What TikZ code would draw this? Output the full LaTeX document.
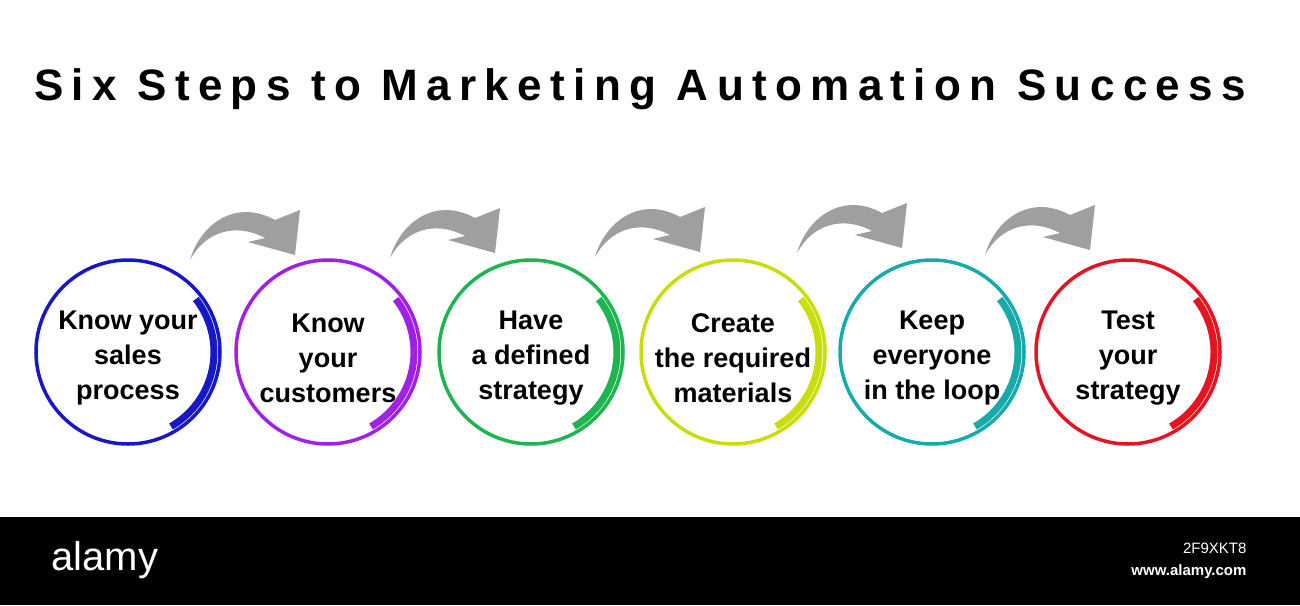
\documentclass[tikz,border=0pt]{standalone}
\usepackage{fontspec}
\setmainfont{Liberation Sans}
\begin{document}
\begin{tikzpicture}[x=1pt,y=-1pt,
  stepc/.style={circle,draw=#1,line width=3.5pt,minimum size=184pt,inner sep=0pt,align=center,
    font=\bfseries\fontsize{27}{35}\selectfont},
  garr/.style={fill=gray!75,draw=none}]
\useasboundingbox (0,0) rectangle (1300,605);
\fill[white] (0,0) rectangle (1300,605);
\definecolor{c1}{RGB}{22,24,200}
\definecolor{c2}{RGB}{160,32,230}
\definecolor{c3}{RGB}{30,180,80}
\definecolor{c4}{RGB}{200,222,10}
\definecolor{c5}{RGB}{22,170,170}
\definecolor{c6}{RGB}{228,20,32}
\node[anchor=base,font=\bfseries\fontsize{44}{50}\selectfont\addfontfeature{LetterSpace=19}] (title) at (640,100) {Six Steps to Marketing Automation Success};
\foreach \i/\x/\t in {1/128/{Know your\\sales\\process},2/328/{Know\\your\\customers},3/531/{Have\\a defined\\strategy},4/733/{Create\\the required\\materials},5/932/{Keep\\everyone\\in the loop},6/1128/{Test\\your\\strategy}}{
  \node[stepc=c\i] (c\i) at (\x,352) {};
  \node[align=center,font=\bfseries\fontsize{27}{35}\selectfont] (t\i) at (\x,358) {\t};
  \draw[c\i,line width=7pt] (c\i.center) ++(60:86) arc[start angle=60,end angle=-38,radius=86];
}
\foreach \x/\y in {190/260,390/258,595/257,797/253,985/255}{
  \begin{scope}[shift={(\x,\y)}]
  \fill[garr] (0,0) .. controls (10,-35) and (45,-62) .. (85,-40) -- (110,-50) -- (105,-5) -- (58,-18) -- (75,-22) .. controls (45,-38) and (15,-28) .. (0,0) -- cycle;
  \end{scope}
}
\fill[black] (0,517) rectangle (1300,605);
\node[white,anchor=west,font=\fontsize{40}{44}\selectfont] (logo) at (48,560) {alamy};
\node[white,anchor=east,font=\fontsize{15}{18}\selectfont] (id) at (1250,548) {2F9XKT8};
\node[white,anchor=east,font=\bfseries\fontsize{15}{18}\selectfont] (url) at (1250,572) {www.alamy.com};
\end{tikzpicture}
\end{document}
